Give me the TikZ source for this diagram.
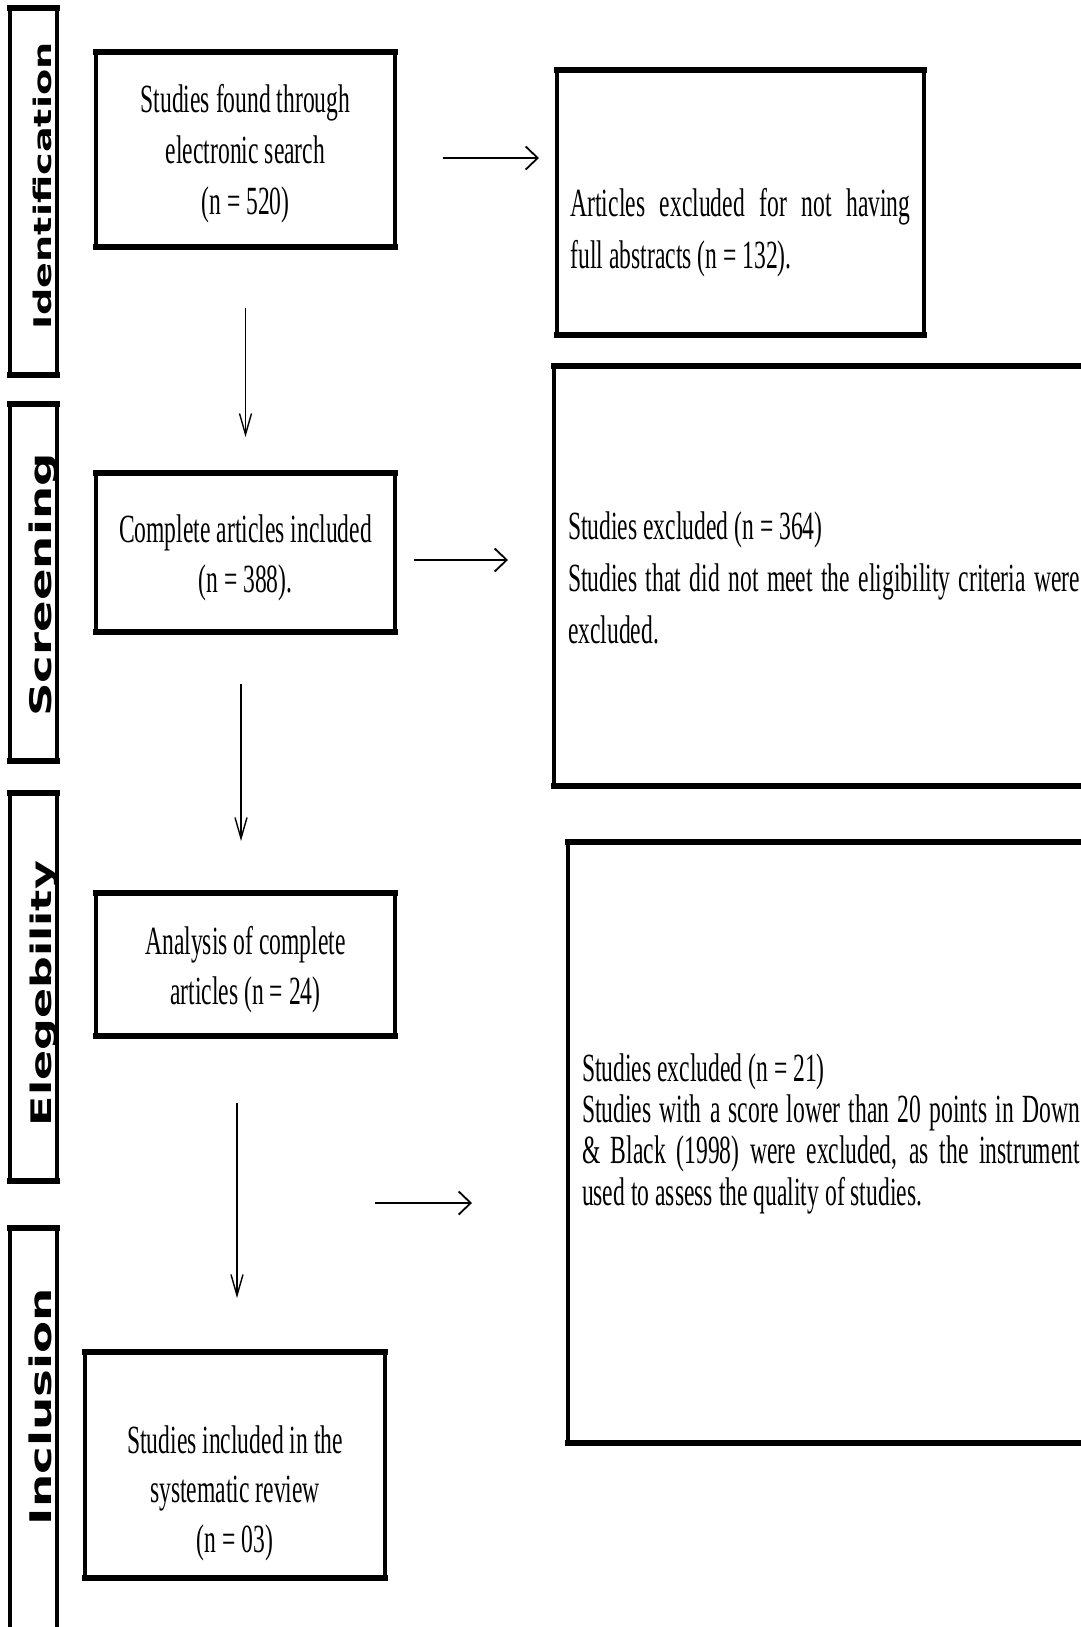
\documentclass[tikz,border=0pt]{standalone}
\usepackage{fontspec}
\setmainfont{Liberation Serif}
\newfontfamily\tnr[FakeStretch=0.59]{Liberation Serif}
\newfontfamily\lblfont[FakeStretch=1.57]{DejaVu Sans}
\usetikzlibrary{arrows.meta,calc}
\newcommand{\topstrut}[1]{\rule{0pt}{#1pt}}
\newcommand{\botstrut}[1]{\rule[-#1pt]{0pt}{0pt}}
\newcommand{\fixsp}{\spaceskip=0pt\xspaceskip=0pt\noindent}
\begin{document}
\begin{tikzpicture}[x=1pt,y=-1pt,
  frame/.style={draw, line width=3.5pt, outer sep=0pt, inner sep=0pt},
  cbox/.style={frame, align=center, minimum width=299pt},
  rbox/.style={frame, align=left, inner xsep=14pt, anchor=west},
  phasebar/.style={frame, minimum width=47pt},
  phaselbl/.style={rotate=90, anchor=base, inner sep=0pt},
  hedge/.style={line width=6pt, line cap=rect},
  varrow/.style={line width=1.4pt, -{Straight Barb[length=21pt,width=12pt,line width=1.4pt]}},
  harrow/.style={line width=2pt, -{Straight Barb[length=12pt,width=23pt,line width=1.8pt]}},
]
\useasboundingbox (0,0) rectangle (1081,1627);

% phase bars
\node[phasebar, minimum height=367pt] (p1) at (33.5,191.5) {};
\node[phasebar, minimum height=357pt] (p2) at (33.5,582.5) {};
\node[phasebar, minimum height=388pt] (p3) at (33.5,987) {};
\node[phasebar, minimum height=452pt] (p4) at (33.5,1454) {};
\node[phaselbl, font={\lblfont\bfseries\fontsize{24.3}{28}\selectfont}] (l1) at (51,186) {Identification};
\node[phaselbl, font={\lblfont\bfseries\fontsize{29.7}{33}\selectfont}] (l2) at (51,585) {Screening};
\node[phaselbl, font={\lblfont\bfseries\fontsize{28.3}{32}\selectfont}] (l3) at (51,993.5) {Elegebility};
\node[phaselbl, font={\lblfont\bfseries\fontsize{29.8}{33}\selectfont}] (l4) at (51,1406.5) {Inclusion};

% main boxes
\node[cbox, minimum height=195pt, font={\tnr\fontsize{40}{51}\selectfont}] (b1) at (245.5,149.5)
  {\topstrut{39}Studies found through\\electronic search\\(n = 520)\botstrut{12}};
\node[cbox, minimum height=159pt, font={\tnr\fontsize{40}{50}\selectfont}] (b2) at (245.5,552.5)
  {\topstrut{41}Complete articles included\\(n = 388).\botstrut{12}};
\node[cbox, minimum height=143pt, font={\tnr\fontsize{40}{50}\selectfont}] (b3) at (245.5,964.5)
  {\topstrut{41.6}Analysis of complete\\articles (n = 24)\botstrut{12}};
\node[cbox, minimum width=300pt, minimum height=226pt, font={\tnr\fontsize{40}{49.2}\selectfont}] (b4) at (235,1465)
  {\topstrut{87.6}Studies included in the\\systematic review\\(n = 03)\botstrut{12}};

% exclusion boxes
\node[rbox, text width=340pt, inner xsep=13.5pt, minimum height=265pt,
  font={\tnr\fontsize{40}{51.8}\selectfont}] (r1) at (557,202.5)
  {\fixsp\topstrut{92}\makebox[340pt][s]{Articles excluded for not having}\\full abstracts (n = 132).\botstrut{12}};
\node[rbox, text width=512pt, minimum height=420pt,
  font={\tnr\fontsize{40}{51.8}\selectfont}] (r2) at (554,576)
  {\fixsp\topstrut{43.4}Studies excluded (n = 364)\\\makebox[512pt][s]{Studies that did not meet the eligibility criteria were}\\excluded.\botstrut{12}};
\node[rbox, text width=498pt, minimum height=601pt,
  font={\tnr\fontsize{40}{41.1}\selectfont}] (r3) at (568,1142.5)
  {\fixsp\topstrut{31.7}Studies excluded (n = 21)\\\makebox[498pt][s]{Studies with a score lower than 20 points in Down}\\\makebox[498pt][s]{\& Black (1998) were excluded, as the instrument}\\used to assess the quality of studies.\botstrut{30}};

% thicker horizontal edges of every frame
\foreach \n in {p1,p2,p3,p4,b1,r1,b2,r2,b3,r3,b4} {
  \draw[hedge] (\n.north west) -- (\n.north east);
  \draw[hedge] (\n.south west) -- (\n.south east);
}

% vertical arrows
\draw[varrow] ($(b1.south)+(0pt,-61pt)$) -- ($(b2.north)+(0pt,36pt)$);
\draw[varrow] ($(b2.south)+(-4.5pt,-52pt)$) -- ($(b3.north)+(-4.5pt,52pt)$);
\draw[varrow] ($(b3.south)+(-8.5pt,-67pt)$) -- ($(b4.north)+(2pt,54pt)$);

% horizontal arrows
\draw[harrow] ($(b1.east)+(48pt,-8.5pt)$) -- ($(r1.west |- b1.east)+(-18pt,-8.5pt)$);
\draw[harrow] ($(b2.east)+(19pt,-7.5pt)$) -- ($(r2.west |- b2.east)+(-46pt,-7.5pt)$);
\draw[harrow] ($(b3.east |- r3.west)+(-20pt,-60.5pt)$) -- ($(r3.west)+(-96pt,-60.5pt)$);
\end{tikzpicture}
\end{document}
